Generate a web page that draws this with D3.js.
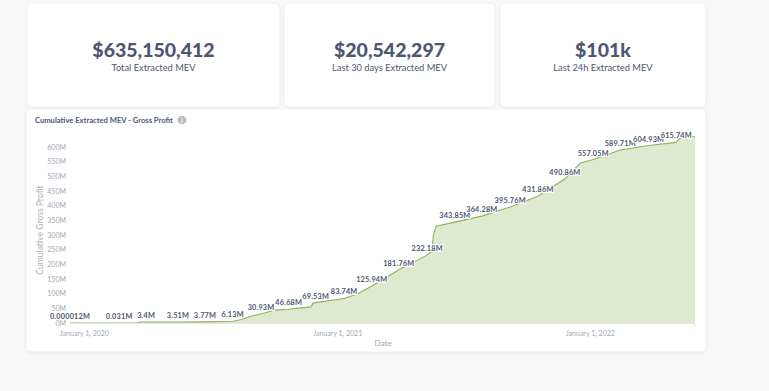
<!DOCTYPE html>
<html><head><meta charset="utf-8">
<script src="https://cdn.jsdelivr.net/npm/d3@7"></script>
<style>
html,body{margin:0;padding:0;background:#f8f8f9;}
svg{display:block;font-family:Lato,"Noto Sans",sans-serif;}
</style></head>
<body>
<svg id="c" width="769" height="391"></svg>
<script>
// ---- data ----
const cardValues = ["$635,150,412", "$20,542,297", "$101k"];
const cardLabels = ["Total Extracted MEV", "Last 30 days Extracted MEV", "Last 24h Extracted MEV"];

const dates = ["2019-12-12","2020-02-21","2020-03-18","2020-03-22","2020-03-31","2020-05-16","2020-06-24","2020-07-20",
  "2020-08-03","2020-08-13","2020-08-31","2020-09-13","2020-10-03","2020-10-23","2020-11-24","2020-11-27","2020-12-01",
  "2021-01-11","2021-01-31","2021-02-20","2021-03-13","2021-03-31","2021-04-20","2021-05-11","2021-05-18","2021-05-20",
  "2021-05-24","2021-06-20","2021-07-29","2021-09-08","2021-10-18","2021-11-26","2021-12-18","2022-01-06","2022-02-14",
  "2022-03-27","2022-05-06","2022-05-11","2022-05-16","2022-06-02"];
const values = [0.000012,0.031,0.031,3.4,3.4,3.51,3.77,5,
  6.13,10,24,30.93,44,46.68,55,67,69.53,
  83.74,100,125.94,155,181.76,205,232.18,245,300,
  330,343.85,364.28,395.76,431.86,490.86,545,557.05,589.71,
  604.93,615.74,630,635.15,635.15];
const pointLabels = ["0.000012M","0.031M","","","3.4M","3.51M","3.77M","",
  "6.13M","","","30.93M","","46.68M","","","69.53M",
  "83.74M","","125.94M","","181.76M","","232.18M","","",
  "","343.85M","364.28M","395.76M","431.86M","490.86M","","557.05M","589.71M",
  "604.93M","615.74M","","",""];
const yTicks = [0,50,100,150,200,250,300,350,400,450,500,550,600];
const xTicks = ["2020-01-01","2021-01-01","2022-01-01"];

// ---- drawing ----
const svg = d3.select("#c");
const parse = d3.utcParse("%Y-%m-%d");
const data = dates.map((d,i)=>({date:parse(d), value:values[i], label:pointLabels[i]}));

const defs = svg.append("defs");
const f = defs.append("filter").attr("id","sh").attr("x","-5%").attr("y","-5%").attr("width","110%").attr("height","120%");
f.append("feDropShadow").attr("dx",0).attr("dy",1).attr("stdDeviation",1.2).attr("flood-color","#000").attr("flood-opacity",0.06);

const cards = [[27,3,253,104],[284,3,211,104],[500,3,206,104]];
cards.forEach((c,i)=>{
  svg.append("rect").attr("x",c[0]).attr("y",c[1]).attr("width",c[2]).attr("height",c[3])
    .attr("rx",5).attr("fill","#fff").attr("stroke","#efeff1").attr("filter","url(#sh)");
  const cx = c[0]+c[2]/2;
  svg.append("text").attr("x",cx).attr("y",57).attr("text-anchor","middle")
    .attr("font-size",19.5).attr("font-weight",900).attr("fill","#4c5773").text(cardValues[i]);
  svg.append("text").attr("x",cx).attr("y",71).attr("text-anchor","middle")
    .attr("font-size",9.3).attr("fill","#4c5773").text(cardLabels[i]);
});

// chart card
svg.append("rect").attr("x",26).attr("y",109).attr("width",680).attr("height",243)
  .attr("rx",5).attr("fill","#fff").attr("stroke","#efeff1").attr("filter","url(#sh)");
svg.append("text").attr("x",35).attr("y",123).attr("font-size",7.6).attr("font-weight",700)
  .attr("fill","#4c5773").text("Cumulative Extracted MEV - Gross Profit");
svg.append("circle").attr("cx",182).attr("cy",120).attr("r",4.3).attr("fill","#b4b8c1");
svg.append("text").attr("x",182).attr("y",123).attr("text-anchor","middle").attr("font-size",7)
  .attr("font-weight",900).attr("fill","#fff").text("i");

const x = d3.scaleUtc().domain([parse("2019-12-12"), parse("2022-06-02")]).range([70,695]);
const y = d3.scaleLinear().domain([0,600]).range([323,147]);

const area = d3.area().x(d=>x(d.date)).y0(y(0)).y1(d=>y(d.value));
const line = d3.line().x(d=>x(d.date)).y(d=>y(d.value));
svg.append("path").datum(data).attr("d",area).attr("fill","#dfe9cf");
svg.append("path").datum(data).attr("d",line).attr("fill","none").attr("stroke","#8fb05c").attr("stroke-width",1.1);

// axes
const yAxis = svg.append("g").attr("transform","translate(66,0)")
  .call(d3.axisLeft(y).tickValues(yTicks).tickSize(0).tickPadding(0).tickFormat(d=>d+"M"));
yAxis.select(".domain").remove();
yAxis.selectAll("text").attr("font-family","Lato").attr("font-size",7).attr("fill","#a3a8b3");

const xAxis = svg.append("g").attr("transform","translate(0,323)")
  .call(d3.axisBottom(x).tickValues(xTicks.map(parse)).tickSize(0).tickPadding(8)
    .tickFormat(d3.utcFormat("%B %-d, %Y")));
xAxis.select(".domain").attr("stroke","#e4e6ea").attr("d","M70,0.5H695V4");
xAxis.selectAll("text").attr("font-family","Lato").attr("font-size",7).attr("fill","#a3a8b3");

svg.append("text").attr("transform","translate(43,230) rotate(-90)").attr("text-anchor","middle")
  .attr("font-size",8.6).attr("fill","#aeb2bc").text("Cumulative Gross Profit");
svg.append("text").attr("x",383).attr("y",346).attr("text-anchor","middle")
  .attr("font-size",8.3).attr("fill","#a3a8b3").text("Date");

// point labels
svg.append("g").selectAll("text").data(data.filter(d=>d.label)).join("text")
  .attr("x",d=>x(d.date)).attr("y",d=>y(d.value)-4).attr("text-anchor","middle")
  .attr("font-size",7.3).attr("font-weight",700).attr("fill","#4c5773")
  .attr("stroke","#fff").attr("stroke-width",2).attr("paint-order","stroke")
  .attr("letter-spacing",0.2).text(d=>d.label);
</script>
</body></html>
